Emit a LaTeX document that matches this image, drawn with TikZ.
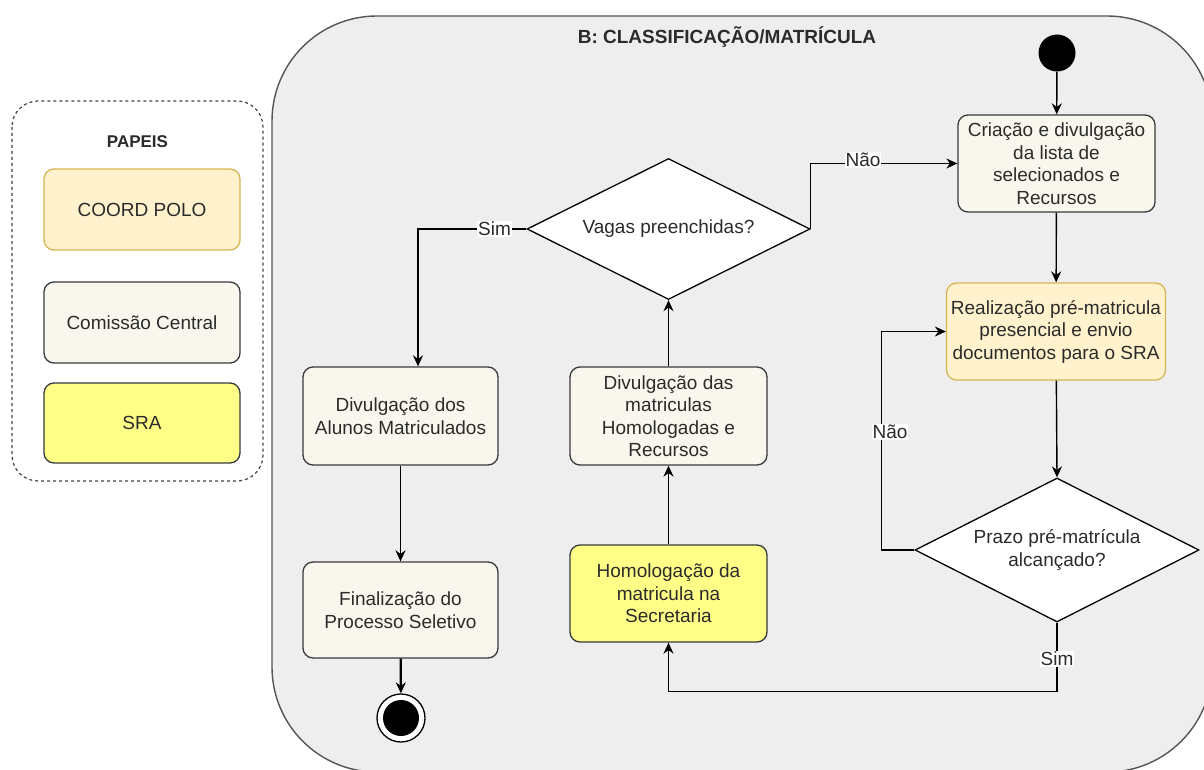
\documentclass[tikz,border=0pt]{standalone}
\usepackage{fontspec}
\setmainfont{Liberation Sans}
\usetikzlibrary{shapes.geometric,arrows.meta,calc}
\definecolor{txt}{HTML}{2B2B2B}
\definecolor{cframe}{HTML}{555555}
\definecolor{cbg}{HTML}{EEEEEE}
\definecolor{polofill}{HTML}{FFF2CC}
\definecolor{polodraw}{HTML}{D6B656}
\definecolor{comfill}{HTML}{F9F7ED}
\definecolor{comdraw}{HTML}{36393D}
\definecolor{srafill}{HTML}{FFFF88}
\tikzset{
  basefont/.style={font=\fontsize{19}{22.5}\selectfont, text=txt},
  procbox/.style={basefont, rectangle, rounded corners=10pt, draw=comdraw, fill=comfill, line width=1.3pt, align=center, inner sep=2pt},
  polobox/.style={procbox, draw=polodraw, fill=polofill},
  srabox/.style={procbox, fill=srafill},
  decision/.style={basefont, diamond, draw=black, fill=white, line width=1.3pt, align=center, inner sep=0pt, aspect=2},
  flow/.style={draw=black, line width=1.4pt, -{Stealth[length=11pt,width=10pt]}},
  elabel/.style={basefont, fill=white, inner sep=1pt},
}
\begin{document}
\begin{tikzpicture}[x=1pt,y=-1pt]
\useasboundingbox (0,0) rectangle (1204,770);
\fill[white] (0,0) rectangle (1204,770);
% legend
\draw[cframe!80!black, line width=1.2pt, dash pattern=on 3pt off 3pt, rounded corners=26pt] (12,101) rectangle (263,481);
\node[basefont, font=\fontsize{17}{20}\selectfont\bfseries] (papeis) at (137.5,142) {PAPEIS};
\node[polobox, minimum width=196pt, minimum height=81pt] (lpolo) at (142,209.5) {COORD POLO};
\node[procbox, minimum width=196pt, minimum height=81pt] (lcom) at (142,322.5) {Comissão Central};
\node[srabox, minimum width=196pt, minimum height=80pt] (lsra) at (142,423) {SRA};
% container
\begin{scope}
\clip (0,0) rectangle (1204,770);
\draw[cframe, fill=cbg, line width=1.4pt, rounded corners=105pt] (272,16) rectangle (1212,772);
\end{scope}
\node[basefont, font=\fontsize{19}{22}\selectfont\bfseries] (title) at (727,37) {B: CLASSIFICAÇÃO/MATRÍCULA};
% nodes
\node[circle, fill=black, minimum size=37pt, inner sep=0pt] (start) at (1057,53) {};
\node[procbox, minimum width=197pt, minimum height=97pt] (crit) at (1056.5,163.5) {Criação e divulgação\\da lista de\\selecionados e\\Recursos};
\node[polobox, minimum width=219pt, minimum height=97pt] (real) at (1056,331.5) {Realização pré-matricula\\presencial e envio\\documentos para o SRA};
\node[decision, minimum width=284pt, minimum height=144pt] (prazo) at (1057,550) {Prazo pré-matrícula\\alcançado?};
\node[srabox, minimum width=197pt, minimum height=97pt] (hom) at (668.5,593.5) {Homologação da\\matricula na\\Secretaria};
\node[procbox, minimum width=197pt, minimum height=98pt] (divm) at (668.5,416) {Divulgação das\\matriculas\\Homologadas e\\Recursos};
\node[decision, minimum width=283pt, minimum height=141pt] (vagas) at (668.5,229) {Vagas preenchidas?};
\node[procbox, minimum width=195pt, minimum height=98pt] (diva) at (400.5,416) {Divulgação dos\\Alunos Matriculados};
\node[procbox, minimum width=195pt, minimum height=96pt] (fin) at (400.5,610) {Finalização do\\Processo Seletivo};
\node[circle, draw=black, line width=1.3pt, fill=white, minimum size=48pt, inner sep=0pt] (endn) at (401,718) {};
\node[circle, fill=black, minimum size=36pt, inner sep=0pt] (endc) at (endn.center) {};
% connectors
\draw[flow] (start) -- (crit);
\draw[flow] (crit) -- (real);
\draw[flow] (real) -- (prazo.north);
\draw[flow] (prazo.west) -- ++(-33,0) |- (real.west);
\node[elabel] (nao1) at (890,432) {Não};
\draw[flow] (prazo.south) -- ++(0,69) -| (hom.south);
\node[elabel] (sim1) at (1057,659) {Sim};
\draw[flow] (hom) -- (divm);
\draw[flow] (divm) -- (vagas.south);
\draw[flow] (vagas.east) |- (crit.west);
\node[elabel] (nao2) at (863,160) {Não};
\coordinate (divain) at ([xshift=17.5pt]diva.north);
\draw[flow] (vagas.west) -| (divain);
\node[elabel] (sim2) at (494.5,229) {Sim};
\draw[flow] (diva) -- (fin);
\draw[draw=black, line width=2.2pt, -{Stealth[length=11pt,width=10pt]}] (fin) -- (endn);
\end{tikzpicture}
\end{document}
